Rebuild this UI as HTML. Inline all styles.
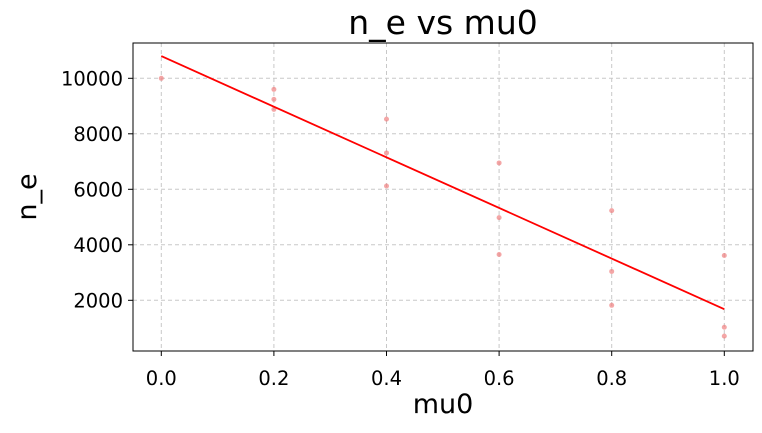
<!DOCTYPE html>
<html><head><meta charset="utf-8"><style>
body{margin:0;background:#fff;}
text{font-family:"DejaVu Sans","Liberation Sans",sans-serif;fill:#000;}
</style></head><body>
<svg width="762" height="428">
<g id="grid"></g><g id="pts"></g><g id="ln"></g><g id="axes"></g>
</svg>
<script>
const xVals=[0,0.2,0.2,0.2,0.4,0.4,0.4,0.6,0.6,0.6,0.8,0.8,0.8,1,1,1];
const yVals=[10000,9600,9240,8880,8530,7310,6120,6950,4980,3650,5230,3040,1820,3615,1030,710];
const fitLine=[10800,1680];
const xTicks=[0,0.2,0.4,0.6,0.8,1.0];
const yTicks=[2000,4000,6000,8000,10000];
const L=133,R=753,T=43,B=351;
const X=v=>161.3+v*563;
const Y=v=>78.3+(10000-v)*55.5/2000;
const NS="http://www.w3.org/2000/svg";
function mk(p,t,a){const e=document.createElementNS(NS,t);for(const k in a)e.setAttribute(k,a[k]);document.getElementById(p).appendChild(e);return e;}
xTicks.forEach(t=>{
 const g=mk('grid','line',{x1:X(t),x2:X(t),y1:T,y2:B,stroke:'#c8c8c8','stroke-dasharray':'4,3'});
 
 
 mk('axes','line',{x1:X(t),x2:X(t),y1:B,y2:B+5,stroke:'#000'});
 const tx=mk('axes','text',{x:X(t),y:B+34,'font-size':19.5,'text-anchor':'middle'});tx.textContent=t.toFixed(1);
 
 
});
yTicks.forEach(t=>{
 const g=mk('grid','line',{x1:L,x2:R,y1:Y(t),y2:Y(t),stroke:'#c8c8c8','stroke-dasharray':'4,3'});
 
 
 mk('axes','line',{x1:L-5,x2:L,y1:Y(t),y2:Y(t),stroke:'#000'});
 const tx=mk('axes','text',{x:L-10,y:Y(t)+7,'font-size':19.5,'text-anchor':'end'});tx.textContent=t;
 
 
});
xVals.forEach((v,i)=>{
 const c=mk('pts','circle',{cx:X(v),cy:Y(yVals[i]),r:2.5,fill:'#f08080','fill-opacity':0.7});
 
 
});
const l=mk('ln','line',{x1:X(0),y1:Y(fitLine[0]),x2:X(1),y2:Y(fitLine[1]),stroke:'#ff0000','stroke-width':1.8});


const fr=mk('axes','rect',{x:L,y:T,width:R-L,height:B-T,fill:'none',stroke:'#000','stroke-width':1});


</script>
<svg style="position:absolute;left:0;top:0" width="762" height="428">
<text x="443" y="34" font-size="33" text-anchor="middle">n_e vs mu0</text>
<text x="443" y="413" font-size="27" text-anchor="middle">mu0</text>
<text x="36" y="197" font-size="27" text-anchor="middle" transform="rotate(-90 36 197)">n_e</text>
</svg>
</body></html>
